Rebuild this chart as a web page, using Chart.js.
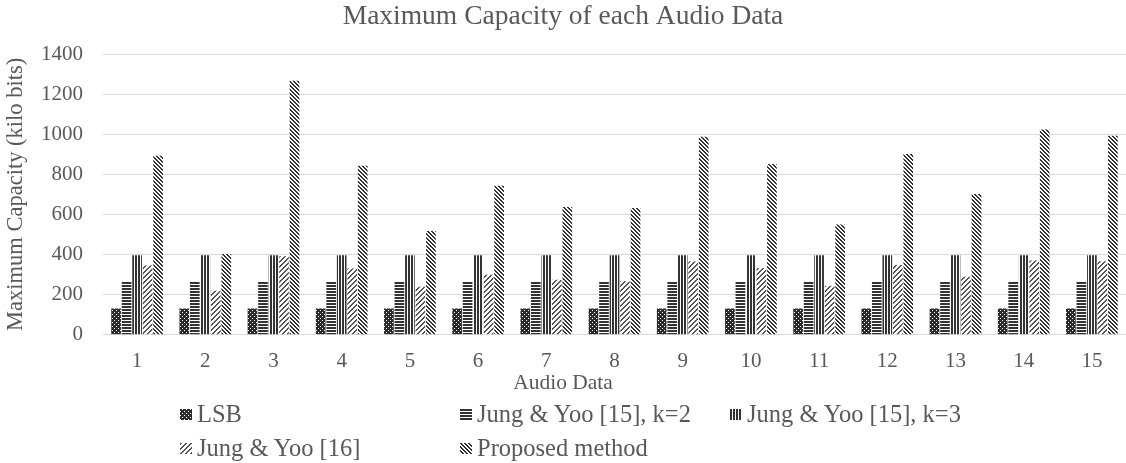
<!DOCTYPE html>
<html>
<head>
<meta charset="utf-8">
<script src="https://cdn.jsdelivr.net/npm/chart.js@4.4.1/dist/chart.umd.min.js"></script>
<style>
  body { margin: 0; background: #fff; }
  #wrap { position: relative; width: 1126px; height: 463px; font-family: "Liberation Serif", "Times New Roman", serif; color: #595959; }
  #legend { position: absolute; left: 0; top: 0; font-size: 24.5px; }
  .item { position: absolute; display: flex; align-items: center; white-space: nowrap; transform: translateY(-50%); }
  .item canvas { margin-right: 5px; }
  #xTitle { position: absolute; left: 563px; top: 382px; transform: translate(-50%, -50%); font-size: 21.5px; white-space: nowrap; }
</style>
</head>
<body>
<div id="wrap">
  <canvas id="capacityChart" width="1126" height="463"></canvas>
  <div id="xTitle">Audio Data</div>
  <div id="legend"></div>
</div>
<script>
// Data
const audioData = ['1', '2', '3', '4', '5', '6', '7', '8', '9', '10', '11', '12', '13', '14', '15'];
const lsb = [131, 131, 131, 131, 131, 131, 131, 131, 131, 131, 131, 131, 131, 131, 131];
const jungK2 = [264, 264, 264, 264, 264, 264, 264, 264, 264, 264, 264, 264, 264, 264, 264];
const jungK3 = [397, 397, 397, 397, 397, 397, 397, 397, 397, 397, 397, 397, 397, 397, 397];
const jung16 = [345, 220, 392, 330, 240, 300, 275, 267, 365, 333, 245, 348, 290, 370, 367];
const proposed = [893, 403, 1267, 843, 517, 743, 637, 632, 987, 852, 550, 902, 702, 1023, 992];
const seriesNames = ['LSB', 'Jung & Yoo [15], k=2', 'Jung & Yoo [15], k=3', 'Jung & Yoo [16]', 'Proposed method'];
const yTicks = [0, 200, 400, 600, 800, 1000, 1200, 1400];

const textColor = '#595959';
const fontFamily = '"Liberation Serif", "Times New Roman", serif';

// build a repeating pixel pattern, test(x, y) says which pixels are dark
function makePattern(size, dark, light, test) {
    const c = document.createElement('canvas');
    c.width = size; c.height = size;
    const g = c.getContext('2d');
    g.fillStyle = light;
    g.fillRect(0, 0, size, size);
    g.fillStyle = dark;
    for (let x = 0; x < size; x++) {
        for (let y = 0; y < size; y++) {
            if (test(x, y)) g.fillRect(x, y, 1, 1);
        }
    }
    return c;
}

const tiles = [
    // dotted checker
    makePattern(4, '#2b2b2b', '#ffffff', (x, y) => !((x % 2 === 0) && (y % 2 === 0)) || ((x + y) % 4 === 0)),
    // horizontal lines
    makePattern(3, '#333333', '#ffffff', (x, y) => y !== 2),
    // vertical lines
    makePattern(3, '#333333', '#ffffff', (x, y) => x !== 2),
    // wide upward diagonal
    makePattern(5, '#555555', '#ffffff', (x, y) => ((x + y) % 5) < 2),
    // narrow downward diagonal
    makePattern(4, '#333333', '#ffffff', (x, y) => ((x - y + 8) % 4) < 2)
];

const ctx = document.getElementById('capacityChart').getContext('2d');
const patterns = tiles.map(t => ctx.createPattern(t, 'repeat'));
const values = [lsb, jungK2, jungK3, jung16, proposed];

const chart = new Chart(ctx, {
    type: 'bar',
    data: {
        labels: audioData,
        datasets: values.map((v, i) => ({
            label: seriesNames[i],
            data: v,
            backgroundColor: patterns[i],
            borderWidth: 0,
            categoryPercentage: 0.77,
            barPercentage: 0.92
        }))
    },
    options: {
        responsive: false,
        animation: false,
        layout: { padding: { left: 0, right: 0, top: 0, bottom: 75 } },
        plugins: {
            legend: { display: false },
            tooltip: { enabled: false },
            title: {
                display: true,
                text: 'Maximum Capacity of each Audio Data',
                color: textColor,
                font: { family: fontFamily, size: 27.5, weight: 'normal' },
                padding: { top: 0, bottom: 21 }
            }
        },
        scales: {
            x: {
                grid: { display: false, drawTicks: false },
                border: { color: '#d9d9d9', width: 1 },
                ticks: { color: textColor, font: { family: fontFamily, size: 21 }, padding: 14 }
            },
            y: {
                min: 0,
                max: 1400,
                afterBuildTicks: s => { s.ticks = yTicks.map(v => ({ value: v })); },
                afterFit: s => { s.width = 103; },
                grid: { color: '#d9d9d9', lineWidth: 1, drawTicks: false },
                border: { display: false },
                ticks: {
                    color: textColor,
                    font: { family: fontFamily, size: 21 },
                    padding: 20,
                    callback: v => String(v)
                },
                title: {
                    display: true,
                    text: 'Maximum Capacity (kilo bits)',
                    color: textColor,
                    font: { family: fontFamily, size: 22.5 },
                    padding: { top: 3, bottom: 0 }
                }
            }
        }
    }
});

// Legend laid out like the original, two rows, three columns
const legendPos = [[180, 414], [460, 414], [730, 414], [180, 448], [460, 448]];
const legendBox = document.getElementById('legend');
seriesNames.forEach((name, i) => {
    const item = document.createElement('div');
    item.className = 'item';
    item.style.left = legendPos[i][0] + 'px';
    item.style.top = legendPos[i][1] + 'px';
    const sw = document.createElement('canvas');
    sw.width = 12; sw.height = 11;
    const sctx = sw.getContext('2d');
    sctx.fillStyle = sctx.createPattern(tiles[i], 'repeat');
    sctx.fillRect(0, 0, 12, 11);
    const label = document.createElement('span');
    label.textContent = name;
    item.appendChild(sw);
    item.appendChild(label);
    legendBox.appendChild(item);
});
</script>
</body>
</html>
